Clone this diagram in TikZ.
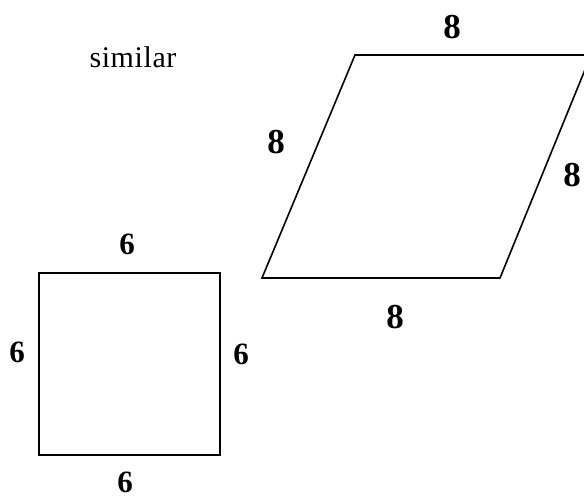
\documentclass[tikz,border=0pt]{standalone}
\usepackage{fontspec}
\setmainfont{Liberation Serif}
\usepackage{tikz}
\usetikzlibrary{positioning}
\tikzset{
  outline/.style={line width=1.6pt, color=black, line join=miter},
  smalllabel/.style={font=\fontsize{31}{34}\selectfont\bfseries, inner sep=0pt},
  biglabel/.style={font=\fontsize{35}{38}\selectfont\bfseries, inner sep=0pt},
  titlelabel/.style={font=\fontsize{30}{33}\selectfont\addfontfeature{LetterSpace=2}, inner sep=0pt}
}
\begin{document}
\begin{tikzpicture}[x=1pt, y=-1pt]
  \useasboundingbox (0,0) rectangle (584,498);

  % Title
  \node[titlelabel] (title) at (133,57) {similar};

  % Square
  \coordinate (sqA) at (39,273);
  \coordinate (sqB) at (220,273);
  \coordinate (sqC) at (220,455);
  \coordinate (sqD) at (39,455);
  \draw[outline] (sqA) -- (sqB) -- (sqC) -- (sqD) -- cycle;
  \node[smalllabel] (sqtop) at (127,244) {6};
  \node[smalllabel] (sqleft) at (17,352) {6};
  \node[smalllabel] (sqright) at (241,354) {6};
  \node[smalllabel] (sqbottom) at (125,482) {6};

  % Rhombus
  \coordinate (rhA) at (355,55);
  \coordinate (rhB) at (591,55);
  \coordinate (rhC) at (500,278);
  \coordinate (rhD) at (262,278);
  \draw[outline] (rhA) -- (rhB) -- (rhC) -- (rhD) -- cycle;
  \node[biglabel] (rhtop) at (452,27) {8};
  \node[biglabel] (rhleft) at (276,142) {8};
  \node[biglabel] (rhright) at (572,175) {8};
  \node[biglabel] (rhbottom) at (395,317) {8};
\end{tikzpicture}
\end{document}
